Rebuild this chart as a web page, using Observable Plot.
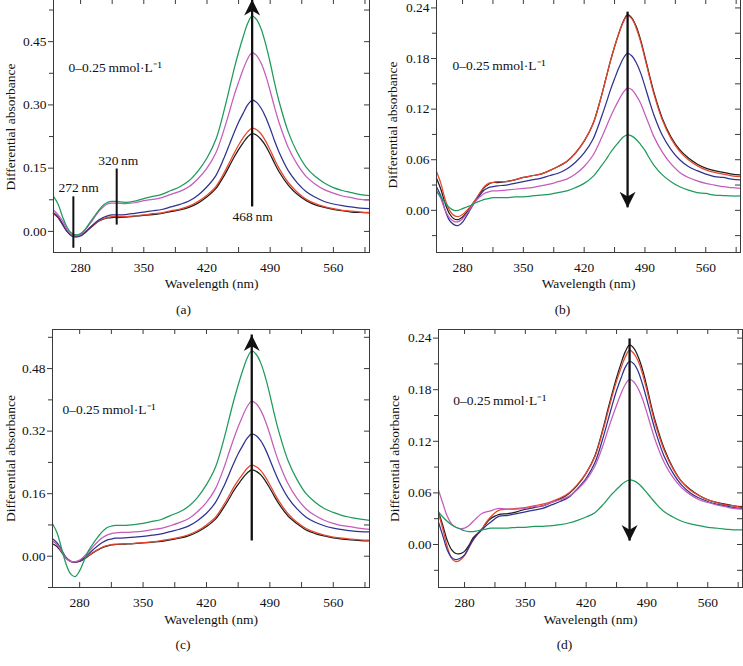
<!DOCTYPE html>
<html><head><meta charset="utf-8">
<script src="https://cdn.jsdelivr.net/npm/d3@7"></script>
<script src="https://cdn.jsdelivr.net/npm/@observablehq/plot@0.6"></script>
<style>
html,body{margin:0;padding:0;background:#fff;}
#fig{position:relative;width:743px;height:666px;overflow:hidden;background:#fff;}
#fig svg{position:absolute;}
</style></head><body><div id="fig"></div>
<script>
// ---------- shared data ----------
const wavelength = [250,255,260,265,270,275,280,285,290,295,300,305,310,315,320,330,340,
  350,360,370,380,390,400,410,420,430,440,
  445,450,455,460,465,470,475,480,485,490,495,500,
  510,520,530,540,550,560,570,580,590,600];
const seriesNames = ["black","red","blue","magenta","green"];
const seriesColors = ["#1d1d1f","#e8472b","#2f3190","#c55cba","#1d9a5c"];

// ---------- panel (a) ----------
const aBlack = [0.042,0.033,0.016,0.0,-0.009,-0.011,-0.009,-0.002,0.007,0.016,0.024,0.029,0.032,0.033,0.033,0.034,0.036,
  0.038,0.040,0.043,0.047,0.051,0.057,0.067,0.082,0.102,0.136,0.156,0.176,0.194,0.210,0.224,0.232,0.228,0.218,0.203,0.183,0.161,0.141,
  0.110,0.088,0.073,0.063,0.057,0.052,0.049,0.046,0.045,0.044];
const aRed = [0.043,0.034,0.017,0.0,-0.009,-0.011,-0.009,-0.002,0.008,0.017,0.025,0.030,0.033,0.035,0.035,0.035,0.037,
  0.039,0.042,0.044,0.049,0.053,0.060,0.071,0.086,0.107,0.143,0.164,0.185,0.205,0.222,0.236,0.245,0.241,0.231,0.214,0.193,0.170,0.149,
  0.116,0.093,0.076,0.066,0.059,0.054,0.050,0.048,0.046,0.045];
const aBlue = [0.044,0.035,0.018,0.0,-0.011,-0.0135,-0.011,-0.003,0.008,0.018,0.027,0.033,0.037,0.039,0.039,0.040,0.043,
  0.046,0.049,0.052,0.058,0.064,0.072,0.086,0.106,0.133,0.180,0.207,0.234,0.259,0.280,0.300,0.311,0.306,0.292,0.271,0.244,0.214,0.187,
  0.144,0.115,0.094,0.081,0.071,0.065,0.061,0.058,0.055,0.054];
const aMagenta = [0.05,0.04,0.025,0.005,-0.007,-0.01,-0.007,0.003,0.017,0.032,0.047,0.058,0.065,0.067,0.067,0.066,0.068,
  0.073,0.076,0.080,0.088,0.095,0.106,0.125,0.150,0.187,0.249,0.285,0.322,0.354,0.384,0.409,0.424,0.417,0.399,0.370,0.333,0.293,0.257,
  0.199,0.159,0.130,0.112,0.099,0.091,0.084,0.080,0.076,0.074];
const aGreen = [0.083,0.065,0.035,0.01,-0.004,-0.008,-0.005,0.005,0.02,0.035,0.05,0.062,0.069,0.071,0.071,0.069,0.072,
  0.078,0.083,0.088,0.097,0.106,0.120,0.143,0.174,0.219,0.296,0.340,0.385,0.425,0.461,0.493,0.511,0.502,0.480,0.444,0.400,0.351,0.307,
  0.236,0.187,0.152,0.130,0.115,0.104,0.097,0.092,0.087,0.085];

// ---------- panel (b) ----------
const bBlack = [0.038,0.025,0.008,-0.004,-0.010,-0.011,-0.008,-0.002,0.005,0.012,0.020,0.027,0.031,0.033,0.033,0.034,0.036,
  0.039,0.041,0.043,0.047,0.052,0.058,0.068,0.082,0.102,0.136,0.156,0.176,0.194,0.210,0.224,0.232,0.228,0.218,0.202,0.182,0.161,0.141,
  0.109,0.087,0.072,0.062,0.055,0.050,0.047,0.045,0.043,0.042];
const bRed = [0.046,0.032,0.013,0.0,-0.006,-0.0075,-0.005,0.0,0.006,0.013,0.021,0.028,0.032,0.033,0.034,0.034,0.036,
  0.039,0.041,0.043,0.047,0.052,0.058,0.068,0.082,0.102,0.136,0.156,0.176,0.194,0.210,0.223,0.231,0.227,0.216,0.200,0.180,0.159,0.139,
  0.107,0.085,0.070,0.060,0.053,0.048,0.045,0.043,0.041,0.040];
const bBlue = [0.028,0.017,0.0,-0.012,-0.017,-0.018,-0.014,-0.006,0.003,0.011,0.018,0.024,0.027,0.028,0.029,0.030,0.032,
  0.034,0.036,0.038,0.041,0.044,0.049,0.057,0.068,0.084,0.111,0.126,0.142,0.156,0.169,0.180,0.186,0.183,0.175,0.163,0.147,0.130,0.114,
  0.089,0.072,0.060,0.052,0.047,0.043,0.040,0.039,0.037,0.036];
const bMagenta = [0.024,0.014,0.0,-0.009,-0.013,-0.0135,-0.010,-0.004,0.004,0.011,0.016,0.020,0.022,0.023,0.023,0.024,0.025,
  0.026,0.027,0.029,0.031,0.034,0.037,0.043,0.052,0.065,0.086,0.098,0.110,0.121,0.131,0.140,0.145,0.143,0.136,0.127,0.114,0.101,0.088,
  0.069,0.055,0.045,0.039,0.035,0.032,0.030,0.028,0.027,0.026];
const bGreen = [0.022,0.016,0.009,0.003,0.0,0.0,0.002,0.004,0.006,0.009,0.011,0.013,0.014,0.015,0.015,0.015,0.016,
  0.016,0.017,0.018,0.019,0.021,0.023,0.027,0.032,0.040,0.053,0.060,0.068,0.075,0.081,0.087,0.0895,0.088,0.084,0.078,0.071,0.062,0.054,
  0.042,0.034,0.028,0.024,0.021,0.020,0.018,0.0175,0.017,0.017];

// ---------- panel (c) ----------
const cBlack = [0.032,0.025,0.01,-0.005,-0.013,-0.015,-0.013,-0.007,0.001,0.009,0.016,0.022,0.026,0.029,0.03,0.031,0.032,
  0.034,0.036,0.038,0.042,0.046,0.052,0.062,0.076,0.095,0.128,0.147,0.167,0.184,0.200,0.213,0.221,0.217,0.208,0.193,0.174,0.153,0.134,
  0.103,0.083,0.067,0.058,0.052,0.047,0.044,0.042,0.040,0.039];
const cRed = [0.039,0.03,0.013,-0.004,-0.013,-0.015,-0.012,-0.006,0.002,0.01,0.017,0.023,0.027,0.03,0.031,0.032,0.033,
  0.035,0.037,0.040,0.044,0.048,0.055,0.065,0.080,0.100,0.135,0.155,0.176,0.194,0.210,0.225,0.233,0.229,0.219,0.203,0.183,0.161,0.141,
  0.109,0.087,0.071,0.061,0.054,0.049,0.046,0.044,0.042,0.041];
const cBlue = [0.045,0.035,0.016,-0.003,-0.013,-0.015,-0.012,-0.004,0.006,0.017,0.027,0.035,0.041,0.044,0.046,0.047,0.049,
  0.051,0.054,0.057,0.063,0.069,0.077,0.091,0.110,0.138,0.183,0.210,0.237,0.262,0.283,0.302,0.313,0.308,0.295,0.274,0.247,0.218,0.192,
  0.150,0.121,0.100,0.087,0.078,0.072,0.068,0.065,0.063,0.062];
const cMagenta = [0.039,0.03,0.013,-0.005,-0.013,-0.014,-0.01,0.0,0.012,0.025,0.037,0.047,0.054,0.058,0.06,0.061,0.062,
  0.064,0.068,0.071,0.078,0.086,0.096,0.114,0.138,0.173,0.231,0.266,0.300,0.331,0.359,0.383,0.397,0.390,0.373,0.346,0.312,0.274,0.240,
  0.186,0.148,0.121,0.104,0.092,0.084,0.078,0.075,0.071,0.069];
const cGreen = [0.083,0.06,0.02,-0.02,-0.045,-0.052,-0.037,-0.01,0.015,0.033,0.049,0.063,0.073,0.077,0.079,0.079,0.081,
  0.084,0.089,0.094,0.104,0.113,0.127,0.150,0.183,0.228,0.306,0.352,0.397,0.438,0.475,0.507,0.525,0.516,0.494,0.458,0.413,0.363,0.318,
  0.245,0.196,0.160,0.138,0.122,0.112,0.104,0.099,0.095,0.092];

// ---------- panel (d) ----------
const dBlack = [0.038,0.022,0.005,-0.006,-0.0105,-0.0105,-0.008,-0.001,0.008,0.013,0.018,0.025,0.030,0.033,0.035,0.036,0.038,
  0.041,0.043,0.045,0.049,0.053,0.059,0.069,0.083,0.103,0.137,0.157,0.176,0.194,0.210,0.224,0.232,0.228,0.218,0.203,0.183,0.161,0.142,
  0.111,0.089,0.073,0.064,0.057,0.052,0.049,0.047,0.045,0.044];
const dRed = [0.036,0.018,-0.002,-0.016,-0.020,-0.018,-0.013,-0.004,0.005,0.012,0.018,0.026,0.032,0.037,0.040,0.041,0.042,
  0.043,0.045,0.047,0.050,0.054,0.060,0.070,0.083,0.102,0.135,0.154,0.173,0.190,0.205,0.218,0.226,0.222,0.213,0.198,0.179,0.158,0.139,
  0.109,0.088,0.073,0.063,0.057,0.052,0.049,0.046,0.045,0.043];
const dBlue = [0.026,0.01,-0.006,-0.015,-0.0175,-0.016,-0.012,-0.003,0.006,0.012,0.017,0.022,0.026,0.030,0.033,0.034,0.036,
  0.038,0.040,0.042,0.046,0.050,0.055,0.065,0.077,0.095,0.126,0.144,0.162,0.179,0.193,0.206,0.213,0.210,0.201,0.186,0.168,0.149,0.131,
  0.102,0.083,0.069,0.060,0.054,0.050,0.047,0.045,0.043,0.042];
const dMagenta = [0.063,0.048,0.033,0.024,0.020,0.0185,0.019,0.022,0.027,0.032,0.036,0.038,0.039,0.041,0.042,0.041,0.041,
  0.042,0.044,0.045,0.049,0.052,0.056,0.064,0.075,0.091,0.117,0.133,0.148,0.162,0.175,0.186,0.192,0.189,0.181,0.169,0.153,0.136,0.120,
  0.095,0.078,0.066,0.058,0.052,0.049,0.046,0.044,0.042,0.041];
const dGreen = [0.038,0.032,0.027,0.023,0.020,0.018,0.016,0.015,0.015,0.016,0.017,0.018,0.019,0.019,0.019,0.019,0.020,
  0.020,0.021,0.021,0.022,0.023,0.025,0.028,0.032,0.037,0.047,0.053,0.059,0.064,0.069,0.073,0.075,0.074,0.071,0.066,0.060,0.054,0.048,
  0.038,0.032,0.027,0.024,0.022,0.020,0.019,0.018,0.017,0.017];

// ---------- ticks ----------
const xTickLabels = [280,350,420,490,560];
const xTickAll = [280,315,350,385,420,455,490,525,560,595];
const aYMajor = [0.00,0.15,0.30,0.45], aYMinor = [0.075,0.225,0.375,0.525];
const bYMajor = [0.00,0.06,0.12,0.18,0.24], bYMinor = [-0.03,0.03,0.09,0.15,0.21];
const cYMajor = [0.00,0.16,0.32,0.48], cYMinor = [-0.08,0.08,0.24,0.40,0.56];
const dYMajor = [0.00,0.06,0.12,0.18,0.24], dYMinor = [-0.03,0.03,0.09,0.15,0.21];

// ---------- annotations ----------
const concText = "0\u20130.25\u2009mmol\u00B7L\u207B\u00B9";
const arrowA = {x: 470, from: 0.058, to: 0.550, dir: "up"};
const arrowB = {x: 470, from: 0.235, to: 0.003, dir: "down"};
const arrowC = {x: 470, from: 0.039, to: 0.566, dir: "up"};
const arrowD = {x: 470, from: 0.239, to: 0.004, dir: "down"};
const concPosA = [266.7, 0.389], concPosB = [268.4, 0.171], concPosC = [261, 0.375], concPosD = [267, 0.167];
const markerLinesA = [{x: 272, y1: 0.082, y2: -0.04}, {x: 320, y1: 0.148, y2: 0.015}];
const markerLabelsA = [{x: 277.8, y: 0.103, t: "272\u2009nm"}, {x: 321.7, y: 0.167, t: "320\u2009nm"}, {x: 470.5, y: 0.034, t: "468\u2009nm"}];

// ---------- arrowhead symbols ----------
const headUp = {draw(ctx, size) { const s = Math.sqrt(size / Math.PI);
  ctx.moveTo(0, 0); ctx.lineTo(-s, 2 * s); ctx.lineTo(0, 1.4 * s); ctx.lineTo(s, 2 * s); ctx.closePath(); }};
const headDown = {draw(ctx, size) { const s = Math.sqrt(size / Math.PI);
  ctx.moveTo(0, 0); ctx.lineTo(-s, -2 * s); ctx.lineTo(0, -1.4 * s); ctx.lineTo(s, -2 * s); ctx.closePath(); }};

const frameColor = "#3a3a3a";
const fontFamily = '"Liberation Serif", "Times New Roman", serif';
const fs = 13.5;

function makePanel(p) {
  const rows = [];
  p.series.forEach((vals, i) => vals.forEach((v, j) => rows.push({s: seriesNames[i], c: seriesColors[i], x: wavelength[j], y: v})));
  const plotW = p.width - p.ml - p.mr, plotH = p.height - p.mt - p.mb;
  const yAll = p.yMajor.concat(p.yMinor);
  const marks = [
    Plot.axisY(p.yMajor, {anchor: "left", tickSize: 5, tickPadding: 2, tickFormat: d3.format(".2f"), label: null, stroke: frameColor, fontSize: fs, fill: "#111"}),
    Plot.axisY(p.yMinor, {anchor: "left", tickSize: 4, tickFormat: () => "", label: null, stroke: frameColor}),
    Plot.axisX(xTickLabels, {anchor: "bottom", tickSize: 0, tickPadding: 10, label: null, fontSize: fs, fill: "#111"}),
    Plot.tickX(xTickAll, {x: d => d, insetTop: plotH - 5, stroke: frameColor}),
    Plot.tickX(xTickAll, {x: d => d, insetBottom: plotH - 5, stroke: frameColor}),
    Plot.tickY(yAll, {y: d => d, insetLeft: plotW - 5, stroke: frameColor}),
    Plot.line(rows, {x: "x", y: "y", z: "s", stroke: "c", curve: "catmull-rom", strokeWidth: 1.25})
  ];
  if (p.markerLines) {
    marks.push(Plot.ruleX(p.markerLines, {x: "x", y1: "y1", y2: "y2", stroke: "#111", strokeWidth: 2}));
    marks.push(Plot.text(p.markerLabels, {x: "x", y: "y", text: "t", fill: "#111", fontSize: fs}));
  }
  const a = p.arrow;
  marks.push(Plot.ruleX([a], {x: "x", y1: "from", y2: "to", stroke: "#111", strokeWidth: 2.3}));
  marks.push(Plot.dot([a], {x: "x", y: "to", symbol: a.dir === "up" ? headUp : headDown, r: 8, fill: "#111", stroke: "none"}));
  marks.push(Plot.text([concText], {x: () => p.concPos[0], y: () => p.concPos[1], text: d => d, textAnchor: "start", fill: "#111", fontSize: fs}));
  marks.push(Plot.frame({stroke: frameColor}));
  marks.push(Plot.text(["Differential absorbance"], {frameAnchor: "left", textAnchor: "middle", rotate: -90, dx: p.ylabelDx, dy: p.ylabelDy, fill: "#111", fontSize: fs}));
  marks.push(Plot.text(["Wavelength (nm)"], {frameAnchor: "bottom", dy: p.xlabelDy, fill: "#111", fontSize: fs}));
  marks.push(Plot.text([p.caption], {frameAnchor: "bottom", dy: p.captionDy, dx: p.captionDx, fill: "#111", fontSize: fs}));
  const svg = Plot.plot({
    width: p.width, height: p.height,
    marginLeft: p.ml, marginRight: p.mr, marginTop: p.mt, marginBottom: p.mb,
    style: {fontFamily, fontSize: fs + "px", color: "#222", background: "none", overflow: "visible"},
    x: {domain: [250, 600]},
    y: {domain: p.yDomain},
    marks
  });
  svg.style.left = p.left + "px";
  svg.style.top = p.top + "px";
  document.getElementById("fig").appendChild(svg);
}

makePanel({left: 0, top: -1, width: 372, height: 331, ml: 53, mr: 3, mt: 0, mb: 78,
  yDomain: [-0.05, 0.55], yMajor: aYMajor, yMinor: aYMinor,
  series: [aBlack, aRed, aBlue, aMagenta, aGreen], arrow: arrowA, concPos: concPosA,
  markerLines: markerLinesA, markerLabels: markerLabelsA,
  ylabelDx: -43, ylabelDy: 1, xlabelDy: 35, captionDy: 61, captionDx: -28, caption: "(a)"});
makePanel({left: 372, top: -1, width: 371, height: 331, ml: 64, mr: 3, mt: 0, mb: 78,
  yDomain: [-0.05, 0.25], yMajor: bYMajor, yMinor: bYMinor,
  series: [bBlack, bRed, bBlue, bMagenta, bGreen], arrow: arrowB, concPos: concPosB,
  ylabelDx: -44, ylabelDy: -1, xlabelDy: 35, captionDy: 61, captionDx: -26, caption: "(b)"});
makePanel({left: 0, top: 328, width: 372, height: 338, ml: 52, mr: 3, mt: 1, mb: 79,
  yDomain: [-0.08, 0.58], yMajor: cYMajor, yMinor: cYMinor,
  series: [cBlack, cRed, cBlue, cMagenta, cGreen], arrow: arrowC, concPos: concPosC,
  ylabelDx: -42, ylabelDy: 0, xlabelDy: 36, captionDy: 61, captionDx: -28, caption: "(c)"});
makePanel({left: 372, top: 328, width: 371, height: 338, ml: 66, mr: 1, mt: 1, mb: 79,
  yDomain: [-0.05, 0.25], yMajor: dYMajor, yMinor: dYMinor,
  series: [dBlack, dRed, dBlue, dMagenta, dGreen], arrow: arrowD, concPos: concPosD,
  ylabelDx: -44, ylabelDy: 0, xlabelDy: 36, captionDy: 61, captionDx: -26, caption: "(d)"});
</script>
</body></html>
